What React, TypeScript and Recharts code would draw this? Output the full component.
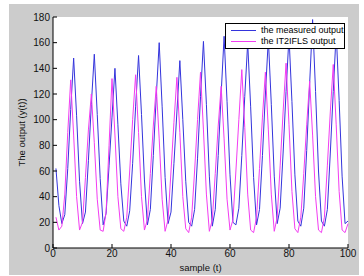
import React from "react";
import {
    LineChart,
    Line,
    XAxis,
    YAxis,
    CartesianGrid,
    Legend,
} from "recharts";

// sample index t = 1..100
const samples: number[] = Array.from({ length: 100 }, (_, i) => i + 1);

// the measured output (blue)
const measured: number[] = [
    62, 33, 19, 26, 62, 108, 148, 103, 52, 19,
    28, 68, 112, 151, 104, 54, 18, 27, 64, 102,
    140, 96, 50, 21, 17, 29, 66, 110, 150, 104,
    53, 18, 30, 72, 118, 160, 110, 55, 19, 28,
    66, 106, 146, 100, 52, 20, 17, 30, 70, 118,
    161, 112, 56, 17, 30, 72, 120, 165, 114, 57,
    20, 18, 31, 72, 118, 160, 110, 55, 18, 30,
    72, 120, 163, 112, 56, 19, 31, 74, 122, 165,
    114, 57, 21, 17, 31, 76, 128, 178, 122, 60,
    21, 17, 30, 74, 122, 168, 115, 56, 19, 21,
];

// the IT2IFLS output (magenta)
const fls: number[] = [
    24, 14, 17, 42, 90, 131, 88, 40, 14, 20,
    55, 92, 120, 82, 38, 14, 13, 28, 80, 132,
    88, 40, 15, 13, 24, 60, 100, 135, 90, 40,
    14, 22, 58, 95, 126, 85, 38, 13, 22, 60,
    98, 133, 90, 40, 15, 12, 24, 60, 100, 137,
    92, 42, 13, 22, 58, 95, 126, 85, 38, 14,
    22, 60, 100, 139, 94, 42, 14, 12, 24, 62,
    102, 137, 92, 42, 13, 24, 64, 106, 144, 96,
    44, 15, 12, 24, 58, 96, 130, 88, 40, 14,
    12, 24, 64, 106, 143, 96, 44, 14, 12, 19,
];

const xTicks = [0, 20, 40, 60, 80, 100];
const yTicks = [0, 20, 40, 60, 80, 100, 120, 140, 160, 180];

const seriesNames = ["the measured output", "the IT2IFLS output"];
const seriesColors = ["#3434dc", "#f23cf2"];

const FONT = '"Liberation Sans", Arial, sans-serif';

const data = samples.map((t, i) => ({ t, measured: measured[i], fls: fls[i] }));

const renderLegend = () => (
    <div
        style={{
            position: "relative",
            boxSizing: "border-box",
            width: 120,
            height: 26,
            border: "1px solid #000",
            background: "#fff",
            fontFamily: FONT,
            fontSize: 9,
            color: "#000",
        }}
    >
        {seriesNames.map((name, i) => (
            <div key={name} style={{ position: "absolute", left: 4, top: 1 + i * 11, height: 11, display: "flex", alignItems: "center" }}>
                <svg width={26} height={11} style={{ display: "block" }}>
                    <line x1={1} y1={5.5} x2={26} y2={5.5} stroke={seriesColors[i]} strokeWidth={1} />
                </svg>
                <span style={{ marginLeft: 5, whiteSpace: "nowrap", lineHeight: "11px" }}>{name}</span>
            </div>
        ))}
    </div>
);

const tickStyle = { fontFamily: FONT, fontSize: 10, fill: "#111" };

export default function App() {
    return (
        <div style={{ position: "absolute", left: 0, top: 0, width: 364, height: 276, background: "#fff" }}>
            <div style={{ position: "absolute", left: 9, top: 4, width: 350, height: 271, background: "#cccccc" }} />
            <div style={{ position: "absolute", left: 0, top: 0 }}>
                <LineChart
                    width={364}
                    height={276}
                    data={data}
                    margin={{ top: 17, right: 16, left: 9, bottom: 0 }}
                >
                    <CartesianGrid fill="#fff" horizontal={false} vertical={false} />
                    <XAxis
                        dataKey="t"
                        type="number"
                        domain={[0, 100]}
                        ticks={xTicks}
                        height={28}
                        tickSize={-4}
                        tickMargin={6}
                        stroke="#000"
                        tick={tickStyle}
                        label={{ value: "sample (t)", position: "insideBottom", offset: 5, style: { fontFamily: FONT, fontSize: 9.5, fill: "#111" } }}
                    />
                    <XAxis
                        xAxisId="top"
                        dataKey="t"
                        type="number"
                        orientation="top"
                        domain={[0, 100]}
                        ticks={xTicks}
                        height={0}
                        tickSize={-4}
                        tick={false}
                        stroke="#000"
                    />
                    <YAxis
                        type="number"
                        domain={[0, 180]}
                        ticks={yTicks}
                        width={44}
                        tickSize={-4}
                        tickMargin={7}
                        stroke="#000"
                        tick={tickStyle}
                        label={{ value: "The output (y(t))", angle: -90, position: "insideLeft", offset: 13, style: { fontFamily: FONT, fontSize: 9.5, fill: "#111", textAnchor: "middle" } }}
                    />
                    <YAxis
                        yAxisId="right"
                        type="number"
                        orientation="right"
                        domain={[0, 180]}
                        ticks={yTicks}
                        width={0}
                        tickSize={-4}
                        tick={false}
                        stroke="#000"
                    />
                    <Legend
                        layout="vertical"
                        align="center"
                        verticalAlign="middle"
                        wrapperStyle={{ left: 225, top: 23, width: 120, height: 26 }}
                        content={renderLegend}
                    />
                    <Line
                        dataKey="measured"
                        name={seriesNames[0]}
                        stroke={seriesColors[0]}
                        strokeWidth={1}
                        dot={false}
                        activeDot={false}
                        isAnimationActive={false}
                    />
                    <Line
                        dataKey="fls"
                        name={seriesNames[1]}
                        stroke={seriesColors[1]}
                        strokeWidth={1}
                        dot={false}
                        activeDot={false}
                        isAnimationActive={false}
                    />
                </LineChart>
            </div>
        </div>
    );
}
